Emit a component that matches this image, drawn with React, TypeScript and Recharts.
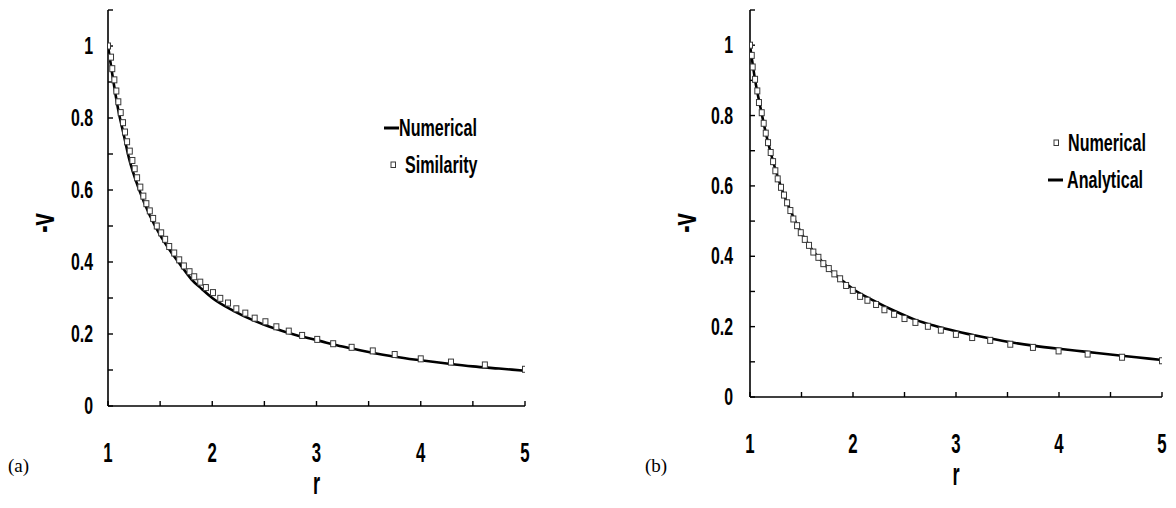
import React from 'react';
import { ComposedChart, Line, Scatter, XAxis, YAxis, Legend } from 'recharts';

// ---- axis ticks ----
const xTicks = [1, 1.5, 2, 2.5, 3, 3.5, 4, 4.5, 5];
const xTickLabels = ['1', '', '2', '', '3', '', '4', '', '5'];
const yTicks = [0, 0.1, 0.2, 0.3, 0.4, 0.5, 0.6, 0.7, 0.8, 0.9, 1.0, 1.1];
const yTickLabels = ['0', '', '0.2', '', '0.4', '', '0.6', '', '0.8', '', '1', ''];

// ---- panel (a): numerical solution vs similarity solution ----
const numericalR_a = [1.0, 1.05, 1.1, 1.15, 1.2, 1.3, 1.4, 1.5, 1.6, 1.7, 1.8, 1.9, 2.0, 2.2, 2.4, 2.6, 2.8, 3.0, 3.25, 3.5, 3.75, 4.0, 4.25, 4.5, 4.75, 5.0];
const numericalV_a = [1.0, 0.905, 0.82, 0.755, 0.69, 0.6, 0.53, 0.475, 0.43, 0.39, 0.352, 0.325, 0.3, 0.265, 0.237, 0.215, 0.197, 0.183, 0.165, 0.15, 0.137, 0.127, 0.118, 0.11, 0.104, 0.098];

const similarityR_a = [1.0, 1.029, 1.041, 1.061, 1.08, 1.099, 1.122, 1.144, 1.163, 1.183, 1.209, 1.234, 1.256, 1.279, 1.31, 1.339, 1.368, 1.401, 1.433, 1.468, 1.51, 1.548, 1.587, 1.635, 1.683, 1.728, 1.782, 1.827, 1.885, 1.939, 2.007, 2.077, 2.151, 2.231, 2.317, 2.407, 2.51, 2.615, 2.734, 2.862, 3.007, 3.16, 3.337, 3.54, 3.75, 4.0, 4.29, 4.615, 5.0];
const similarityV_a = [1.0, 0.969, 0.937, 0.906, 0.875, 0.845, 0.815, 0.787, 0.761, 0.734, 0.708, 0.682, 0.659, 0.634, 0.608, 0.583, 0.562, 0.542, 0.521, 0.5, 0.481, 0.463, 0.443, 0.425, 0.406, 0.389, 0.373, 0.359, 0.344, 0.329, 0.315, 0.299, 0.286, 0.27, 0.258, 0.244, 0.234, 0.22, 0.208, 0.196, 0.185, 0.173, 0.163, 0.153, 0.143, 0.131, 0.122, 0.114, 0.102];

// ---- panel (b): numerical solution vs analytical solution ----
const numericalR_b = [1.0, 1.017, 1.026, 1.049, 1.071, 1.087, 1.114, 1.133, 1.153, 1.175, 1.201, 1.224, 1.246, 1.269, 1.301, 1.33, 1.36, 1.392, 1.421, 1.457, 1.493, 1.532, 1.573, 1.615, 1.664, 1.712, 1.765, 1.819, 1.875, 1.933, 1.998, 2.069, 2.14, 2.224, 2.305, 2.399, 2.5, 2.606, 2.727, 2.853, 2.999, 3.157, 3.332, 3.527, 3.747, 3.996, 4.278, 4.612, 5.0];
const numericalV_b = [1.0, 0.971, 0.938, 0.903, 0.87, 0.837, 0.808, 0.778, 0.75, 0.723, 0.695, 0.669, 0.643, 0.62, 0.596, 0.574, 0.552, 0.53, 0.506, 0.487, 0.467, 0.448, 0.431, 0.412, 0.397, 0.379, 0.365, 0.35, 0.336, 0.317, 0.303, 0.286, 0.275, 0.263, 0.248, 0.235, 0.223, 0.212, 0.201, 0.19, 0.178, 0.169, 0.161, 0.15, 0.141, 0.131, 0.122, 0.113, 0.103];

const analyticalR_b = [1.0, 1.05, 1.1, 1.15, 1.2, 1.3, 1.4, 1.5, 1.6, 1.7, 1.8, 1.9, 2.0, 2.2, 2.4, 2.6, 2.8, 3.0, 3.25, 3.5, 3.75, 4.0, 4.25, 4.5, 4.75, 5.0];
const analyticalV_b = [1.0, 0.9, 0.825, 0.755, 0.695, 0.598, 0.525, 0.465, 0.42, 0.385, 0.355, 0.33, 0.307, 0.274, 0.245, 0.22, 0.202, 0.187, 0.171, 0.157, 0.146, 0.137, 0.129, 0.121, 0.113, 0.105];

const FONT = '"Liberation Sans", Arial, Helvetica, sans-serif';

const toPoints = (r: number[], v: number[]) => r.map((x, i) => ({ r: x, v: v[i] }));

const XTick = (props: any) => {
  const { x, y, payload } = props;
  const i = xTicks.findIndex((t) => Math.abs(t - payload.value) < 1e-9);
  const label = i >= 0 ? xTickLabels[i] : '';
  if (!label) return null;
  return (
    <text
      transform={`translate(${x},${y + 10}) scale(0.6,1)`}
      textAnchor="middle"
      fontSize={28}
      fontWeight={700}
      fontFamily={FONT}
      fill="#000"
    >
      {label}
    </text>
  );
};

const YTick = (props: any) => {
  const { x, y, payload } = props;
  const i = yTicks.findIndex((t) => Math.abs(t - payload.value) < 1e-9);
  const label = i >= 0 ? yTickLabels[i] : '';
  if (!label) return null;
  return (
    <text
      transform={`translate(${x},${y + 8.2}) scale(0.69,1)`}
      textAnchor="end"
      fontSize={23}
      fontWeight={700}
      fontFamily={FONT}
      fill="#000"
    >
      {label}
    </text>
  );
};

const Square = (props: any) => {
  const { cx, cy } = props;
  if (cx == null || cy == null) return null;
  return <rect x={cx - 2.5} y={cy - 3} width={5} height={6} fill="#fff" stroke="#3a3a3a" strokeWidth={1} />;
};

type LegendRow = { name: string; icon: 'line' | 'square'; iconX: number; textX: number; y: number };

const LegendRows = ({ rows }: { rows: LegendRow[] }) => (
  <div style={{ position: 'relative', width: 0, height: 0 }}>
    {rows.map((row) => (
      <React.Fragment key={row.name}>
        {row.icon === 'line' ? (
          <svg style={{ position: 'absolute', left: row.iconX, top: row.y - 3 }} width={16} height={6}>
            <line x1={0} y1={3} x2={15} y2={3} stroke="#000" strokeWidth={3} />
          </svg>
        ) : (
          <svg style={{ position: 'absolute', left: row.iconX, top: row.y - 4 }} width={8} height={8}>
            <rect x={1} y={1} width={4.5} height={5.5} fill="#fff" stroke="#3a3a3a" strokeWidth={1} />
          </svg>
        )}
        <span
          style={{
            position: 'absolute',
            left: row.textX,
            top: row.y - 14,
            fontSize: 23,
            lineHeight: '28px',
            fontWeight: 700,
            fontFamily: FONT,
            color: '#000',
            whiteSpace: 'nowrap',
            transform: 'scaleX(0.7)',
            transformOrigin: '0 50%',
          }}
        >
          {row.name}
        </span>
      </React.Fragment>
    ))}
  </div>
);

type PanelProps = {
  left: number;
  width: number;
  margin: { top: number; right: number; bottom: number; left: number };
  yAxisWidth: number;
  yTickMargin: number;
  lineName: string;
  lineData: { r: number; v: number }[];
  squareName: string;
  squareData: { r: number; v: number }[];
  lineOnTop: boolean;
  legendRows: LegendRow[];
};

const Panel = (p: PanelProps) => {
  const line = (
    <Line
      key="line"
      data={p.lineData}
      dataKey="v"
      name={p.lineName}
      type="monotone"
      stroke="#000"
      strokeWidth={2.6}
      dot={false}
      activeDot={false}
      isAnimationActive={false}
    />
  );
  const squares = (
    <Scatter
      key="squares"
      data={p.squareData}
      dataKey="v"
      name={p.squareName}
      shape={Square}
      isAnimationActive={false}
    />
  );
  return (
    <div style={{ position: 'absolute', left: p.left, top: 0 }}>
      <ComposedChart width={p.width} height={508} margin={p.margin}>
        <XAxis
          dataKey="r"
          type="number"
          domain={[1, 5]}
          ticks={xTicks}
          interval={0}
          tick={<XTick />}
          tickSize={-5}
          tickMargin={51}
          stroke="#000"
          axisLine={{ stroke: '#000', strokeWidth: 1.6 }}
          tickLine={{ stroke: '#000', strokeWidth: 1.4 }}
          height={80}
          allowDataOverflow
          label={{
            content: (lp: any) => {
              const vb = lp.viewBox || {};
              return (
                <text
                  transform={`translate(${vb.x + vb.width / 2},${vb.y + 88}) scale(0.57,1)`}
                  textAnchor="middle"
                  fontSize={32}
                  fontWeight={700}
                  fontFamily={FONT}
                  fill="#000"
                >
                  r
                </text>
              );
            },
          }}
        />
        <XAxis
          xAxisId="top"
          orientation="top"
          type="number"
          domain={[1, 5]}
          height={0}
          tick={false}
          tickLine={false}
          axisLine={{ stroke: '#bdbdbd', strokeWidth: 1 }}
        />
        <YAxis
          dataKey="v"
          type="number"
          domain={[0, 1.1]}
          ticks={yTicks}
          interval={0}
          tick={<YTick />}
          tickSize={-5}
          tickMargin={p.yTickMargin}
          width={p.yAxisWidth}
          axisLine={{ stroke: '#000', strokeWidth: 1.6 }}
          tickLine={{ stroke: '#000', strokeWidth: 1.4 }}
          allowDataOverflow
          label={{
            content: (lp: any) => {
              const vb = lp.viewBox || {};
              return (
                <text
                  transform={`translate(${vb.x + vb.width - 54},${vb.y + 213}) rotate(-90) scale(0.65,1)`}
                  textAnchor="middle"
                  fontSize={34}
                  fontWeight={700}
                  fontFamily={FONT}
                  fill="#000"
                >
                  -v
                </text>
              );
            },
          }}
        />
        <YAxis
          yAxisId="right"
          orientation="right"
          type="number"
          domain={[0, 1.1]}
          width={0}
          tick={false}
          tickLine={false}
          axisLine={{ stroke: '#bdbdbd', strokeWidth: 1 }}
        />
        {p.lineOnTop ? [squares, line] : [line, squares]}
        <Legend
          layout="horizontal"
          verticalAlign="middle"
          align="center"
          wrapperStyle={{ left: 0, top: 0, width: 0, height: 0 }}
          content={() => <LegendRows rows={p.legendRows} />}
        />
      </ComposedChart>
    </div>
  );
};

const panelLabelStyle: React.CSSProperties = {
  position: 'absolute',
  top: 454,
  fontFamily: '"Liberation Serif", "Times New Roman", serif',
  fontSize: 19,
  lineHeight: '24px',
  color: '#000',
};

export default function App() {
  return (
    <div style={{ position: 'absolute', left: 0, top: 0, width: 1176, height: 508, background: '#fff', overflow: 'hidden' }}>
      <Panel
        left={0}
        width={560}
        margin={{ top: 10, right: 35, bottom: 22, left: 0 }}
        yAxisWidth={108}
        yTickMargin={20}
        lineName="Numerical"
        lineData={toPoints(numericalR_a, numericalV_a)}
        squareName="Similarity"
        squareData={toPoints(similarityR_a, similarityV_a)}
        lineOnTop={false}
        legendRows={[
          { name: 'Numerical', icon: 'line', iconX: 384, textX: 399, y: 128 },
          { name: 'Similarity', icon: 'square', iconX: 390, textX: 405, y: 165 },
        ]}
      />
      <Panel
        left={600}
        width={576}
        margin={{ top: 10, right: 14, bottom: 31, left: 0 }}
        yAxisWidth={150}
        yTickMargin={22}
        lineName="Analytical"
        lineData={toPoints(analyticalR_b, analyticalV_b)}
        squareName="Numerical"
        squareData={toPoints(numericalR_b, numericalV_b)}
        lineOnTop={true}
        legendRows={[
          { name: 'Numerical', icon: 'square', iconX: 453, textX: 468, y: 143 },
          { name: 'Analytical', icon: 'line', iconX: 448, textX: 467, y: 180 },
        ]}
      />
      <div style={{ ...panelLabelStyle, left: 8 }}>(a)</div>
      <div style={{ ...panelLabelStyle, left: 645 }}>(b)</div>
    </div>
  );
}
